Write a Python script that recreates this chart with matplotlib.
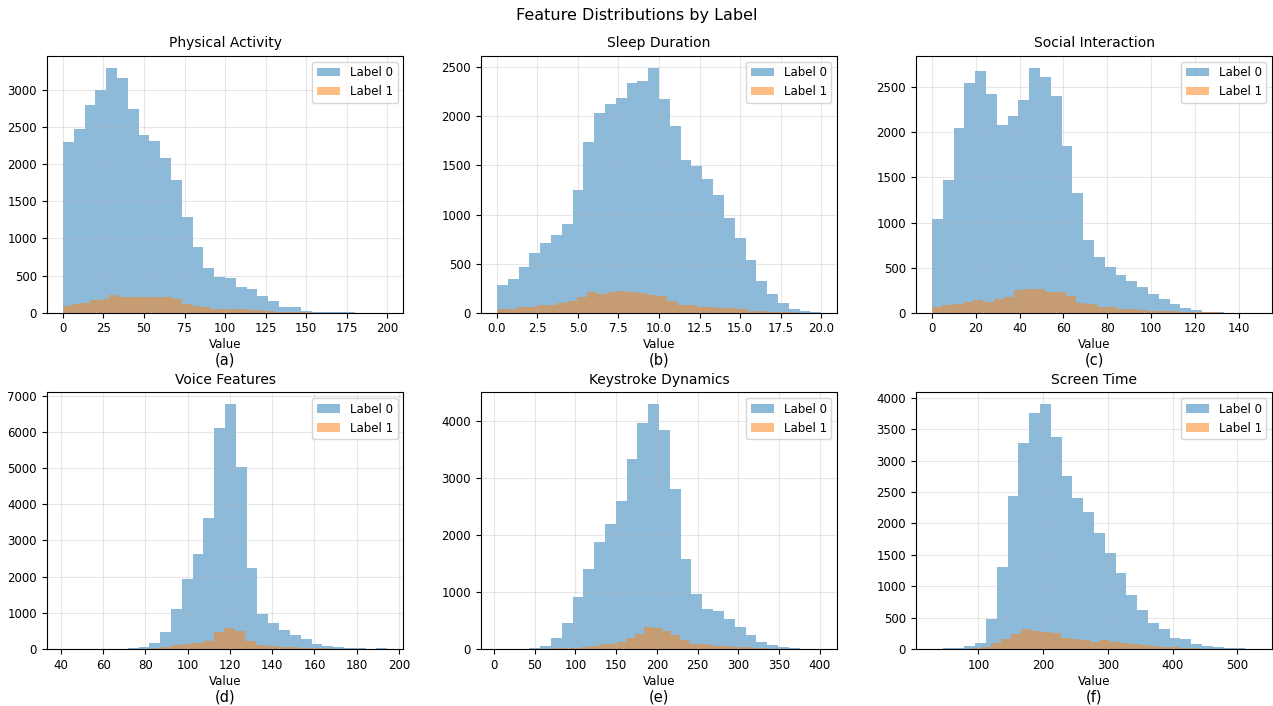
import numpy as np
import matplotlib
matplotlib.use("Agg")
import matplotlib.pyplot as plt

titles = ["Physical Activity", "Sleep Duration", "Social Interaction",
          "Voice Features", "Keystroke Dynamics", "Screen Time"]
panel_tags = ["(a)", "(b)", "(c)", "(d)", "(e)", "(f)"]

# bin ranges (lo, hi) for 30 bins per label
range0 = [(0, 200), (0, 20), (0, 148), (41, 194.4), (3.5, 401.8), (28, 529)]
range1 = [(0, 170), (0, 18.5), (0, 141), (42, 192.6), (30, 360), (58.7, 517.7)]

phys0 = [2300, 2475, 2790, 3000, 3295, 3155, 2745, 2390, 2310, 2080, 1785, 1290, 880, 600, 475,
         465, 340, 320, 220, 155, 82, 72, 22, 9, 6, 5, 5, 2, 1, 1]
phys1 = [94, 122, 135, 168, 180, 238, 215, 206, 212, 206, 214, 212, 180, 122, 85,
         72, 50, 45, 54, 48, 36, 34, 22, 14, 9, 5, 3, 2, 1, 1]

sleep0 = [282, 346, 462, 605, 707, 791, 907, 1250, 1739, 2031, 2126, 2184, 2340, 2357, 2493,
          2181, 1899, 1552, 1498, 1365, 1199, 968, 761, 533, 326, 194, 95, 41, 17, 10]
sleep1 = [34, 34, 54, 61, 78, 78, 95, 115, 163, 207, 194, 211, 224, 214, 204,
          180, 173, 122, 82, 78, 58, 54, 48, 44, 34, 20, 17, 10, 7, 3]

social0 = [1043, 1468, 2049, 2544, 2685, 2426, 2086, 2182, 2356, 2714, 2615, 2404, 1845, 1324, 810,
           618, 510, 414, 351, 288, 211, 148, 100, 52, 26, 11, 7, 1, 0, 1]
social1 = [63, 81, 96, 115, 137, 115, 155, 174, 251, 259, 259, 229, 225, 185, 104,
           96, 67, 59, 44, 40, 30, 22, 18, 15, 11, 7, 5, 3, 2, 1]

voice0 = [1, 0, 3, 10, 12, 14, 20, 46, 160, 480, 1105, 1925, 2625, 3610, 6097,
          6760, 5030, 2230, 958, 728, 525, 378, 267, 147, 74, 46, 28, 18, 12, 25]
voice1 = [0, 0, 1, 1, 2, 3, 5, 12, 22, 64, 110, 138, 157, 230, 479,
          571, 497, 221, 120, 92, 64, 55, 40, 25, 15, 10, 6, 4, 2, 1]

keys0 = [0, 1, 1, 12, 53, 193, 462, 918, 1409, 1883, 2187, 2596, 3327, 3959, 4292,
         3836, 2813, 1573, 959, 702, 672, 532, 386, 246, 123, 64, 35, 18, 8, 4]
keys1 = [1, 2, 3, 6, 10, 18, 25, 40, 60, 88, 94, 117, 187, 269, 380,
         363, 322, 246, 152, 94, 82, 70, 60, 53, 41, 30, 20, 10, 4, 2]

screen0 = [0, 16, 16, 48, 100, 472, 1305, 2440, 3289, 3761, 3899, 3374, 2764, 2398, 2180,
           1846, 1528, 1210, 865, 626, 419, 324, 170, 154, 74, 48, 27, 16, 11, 5]
screen1 = [1, 3, 10, 30, 90, 159, 244, 318, 295, 268, 258, 180, 166, 140, 117,
           143, 106, 90, 74, 64, 48, 37, 27, 18, 12, 8, 5, 3, 2, 1]

counts0 = [phys0, sleep0, social0, voice0, keys0, screen0]
counts1 = [phys1, sleep1, social1, voice1, keys1, screen1]

fig = plt.figure(figsize=(12.73, 7.06), dpi=100)
lefts = [0.0367, 0.3776, 0.7193]
bottoms = [0.5571, 0.0807]
w, h = 0.2802, 0.364

for i in range(6):
    r, c = divmod(i, 3)
    ax = fig.add_axes([lefts[c], bottoms[r], w, h])
    e0 = np.linspace(range0[i][0], range0[i][1], 31)
    e1 = np.linspace(range1[i][0], range1[i][1], 31)
    ax.hist(e0[:-1], bins=e0, weights=counts0[i], alpha=0.5, color="#1f77b4", label="Label 0")
    ax.hist(e1[:-1], bins=e1, weights=counts1[i], alpha=0.5, color="#ff7f0e", label="Label 1")
    ax.set_title(titles[i], fontsize=10)
    ax.set_xlabel("Value", fontsize=8.5, labelpad=2)
    ax.tick_params(labelsize=8.5)
    ax.grid(True, alpha=0.3)
    ax.legend(loc="upper right", fontsize=8.5)
    ax.text(0.5, -0.185, panel_tags[i], transform=ax.transAxes, ha="center", va="center",
            fontsize=10.5)

fig.suptitle("Feature Distributions by Label", fontsize=11.5, y=0.988)
fig.savefig("out.png", dpi=100)
